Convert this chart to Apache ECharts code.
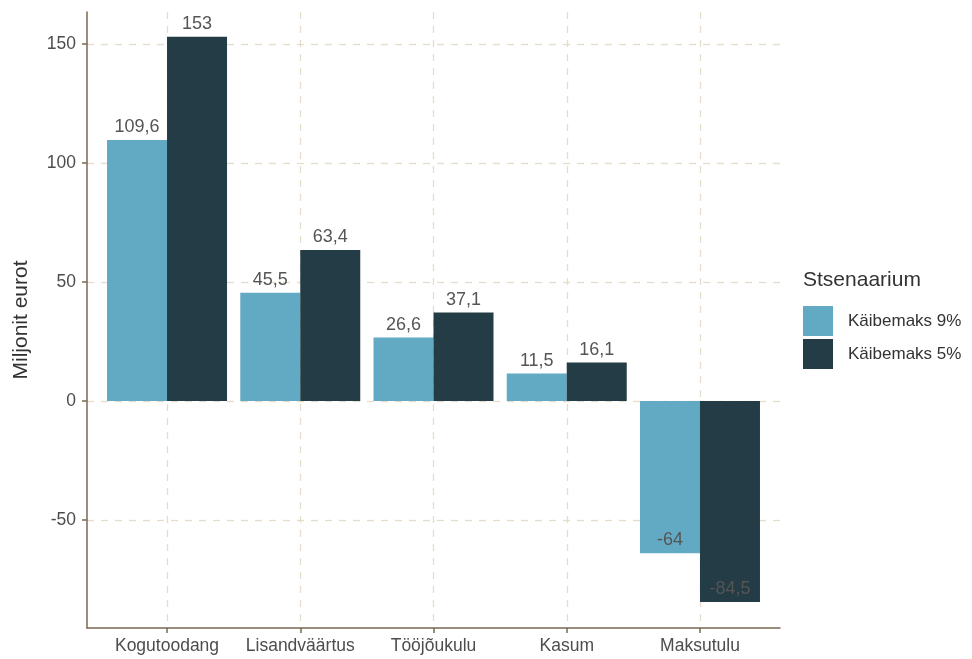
<!DOCTYPE html>
<html>
<head>
<meta charset="utf-8">
<script src="https://cdn.jsdelivr.net/npm/echarts@6/dist/echarts.min.js"></script>
<style>
  html, body { margin: 0; padding: 0; background: #fff; }
  #chart { width: 972px; height: 659px; }
</style>
</head>
<body>
<div id="chart"></div>
<script>
// andmed
const categories = ['Kogutoodang', 'Lisandväärtus', 'Tööjõukulu', 'Kasum', 'Maksutulu']
const seriesNames = ['Käibemaks 9%', 'Käibemaks 5%']
const vat9 = [109.6, 45.5, 26.6, 11.5, -64]
const vat5 = [153, 63.4, 37.1, 16.1, -84.5]
const yTicks = [-50, 0, 50, 100, 150]
const yMin = -95.4
const yMax = 163.4

const font = "'Liberation Sans', Arial, sans-serif"
const axisColor = '#7a6850'
const gridColor = '#e6dccb'
const colors = ['#62aac3', '#233c45']

// negatiivsete tulpade silt tulba sisse, otsa lähedale
function toItems (values) {
  return values.map(v => v < 0 ? { value: v, label: { position: 'insideBottom', distance: 4 } } : v)
}

const chart = echarts.init(document.getElementById('chart'))
const option = {
  animation: false,
  textStyle: { fontFamily: font },
  title: {
    text: 'Stsenaarium',
    left: 803,
    top: 270,
    padding: 0,
    textStyle: { fontSize: 21, fontWeight: 'normal', color: '#333', fontFamily: font }
  },
  legend: {
    data: seriesNames,
    orient: 'vertical',
    left: 803,
    top: 306,
    padding: 0,
    itemWidth: 30,
    itemHeight: 30,
    itemGap: 3,
    icon: 'rect',
    textStyle: { fontSize: 17, color: '#333', fontFamily: font, padding: [0, 0, 0, 10] }
  },
  grid: [
    // laiem ala teljejoonte ja horisontaalsete abijoonte jaoks
    { left: 87, right: 192, top: 12, bottom: 31 },
    // tulbad
    { left: 100.4, right: 205.4, top: 12, bottom: 31 },
    // vertikaalsed abijooned kategooriate keskel
    { left: 167, right: 272, top: 12, bottom: 31 }
  ],
  xAxis: [
    {
      gridIndex: 0,
      type: 'value',
      min: 0,
      max: 1,
      axisLine: { show: true, onZero: false, lineStyle: { color: axisColor, width: 1.5 } },
      axisTick: { show: false },
      axisLabel: { show: false },
      splitLine: { show: false }
    },
    {
      gridIndex: 1,
      type: 'category',
      data: categories,
      axisLine: { show: false, onZero: false },
      axisTick: { show: true, alignWithLabel: true, length: 5, lineStyle: { color: axisColor, width: 1.5 } },
      axisLabel: { interval: 0, fontSize: 17.5, color: '#4d4d4d', margin: 9, fontFamily: font },
      splitLine: { show: false }
    },
    {
      gridIndex: 2,
      type: 'category',
      boundaryGap: false,
      data: categories,
      axisLine: { show: false, onZero: false },
      axisTick: { show: false },
      axisLabel: { show: false, interval: 0 },
      splitLine: { show: true, interval: 0, lineStyle: { color: gridColor, type: [7, 7], width: 1.3 } }
    }
  ],
  yAxis: [
    {
      gridIndex: 0,
      type: 'value',
      min: yMin,
      max: yMax,
      name: 'Miljonit eurot',
      nameLocation: 'middle',
      nameGap: 55,
      nameTextStyle: { fontSize: 21, color: '#333', fontFamily: font },
      axisLine: { show: true, onZero: false, lineStyle: { color: axisColor, width: 1.5 } },
      axisTick: { show: true, length: 5, customValues: yTicks, lineStyle: { color: axisColor, width: 1.5 } },
      axisLabel: { fontSize: 17.5, color: '#4d4d4d', margin: 11, customValues: yTicks, fontFamily: font },
      splitLine: { show: true, lineStyle: { color: gridColor, type: [7, 7], width: 1.3 } }
    },
    { gridIndex: 1, type: 'value', min: yMin, max: yMax, show: false },
    { gridIndex: 2, type: 'value', min: yMin, max: yMax, show: false }
  ],
  series: [
    {
      name: seriesNames[0],
      type: 'bar',
      xAxisIndex: 1,
      yAxisIndex: 1,
      barWidth: 60,
      barGap: '0%',
      itemStyle: { color: colors[0] },
      label: {
        show: true,
        position: 'top',
        distance: 4,
        fontSize: 18,
        color: '#555',
        fontFamily: font,
        formatter: p => String(p.value).replace('.', ',')
      },
      data: toItems(vat9)
    },
    {
      name: seriesNames[1],
      type: 'bar',
      xAxisIndex: 1,
      yAxisIndex: 1,
      barWidth: 60,
      barGap: '0%',
      itemStyle: { color: colors[1] },
      label: {
        show: true,
        position: 'top',
        distance: 4,
        fontSize: 18,
        color: '#555',
        fontFamily: font,
        formatter: p => String(p.value).replace('.', ',')
      },
      data: toItems(vat5)
    }
  ]
}
chart.setOption(option)
</script>
</body>
</html>
